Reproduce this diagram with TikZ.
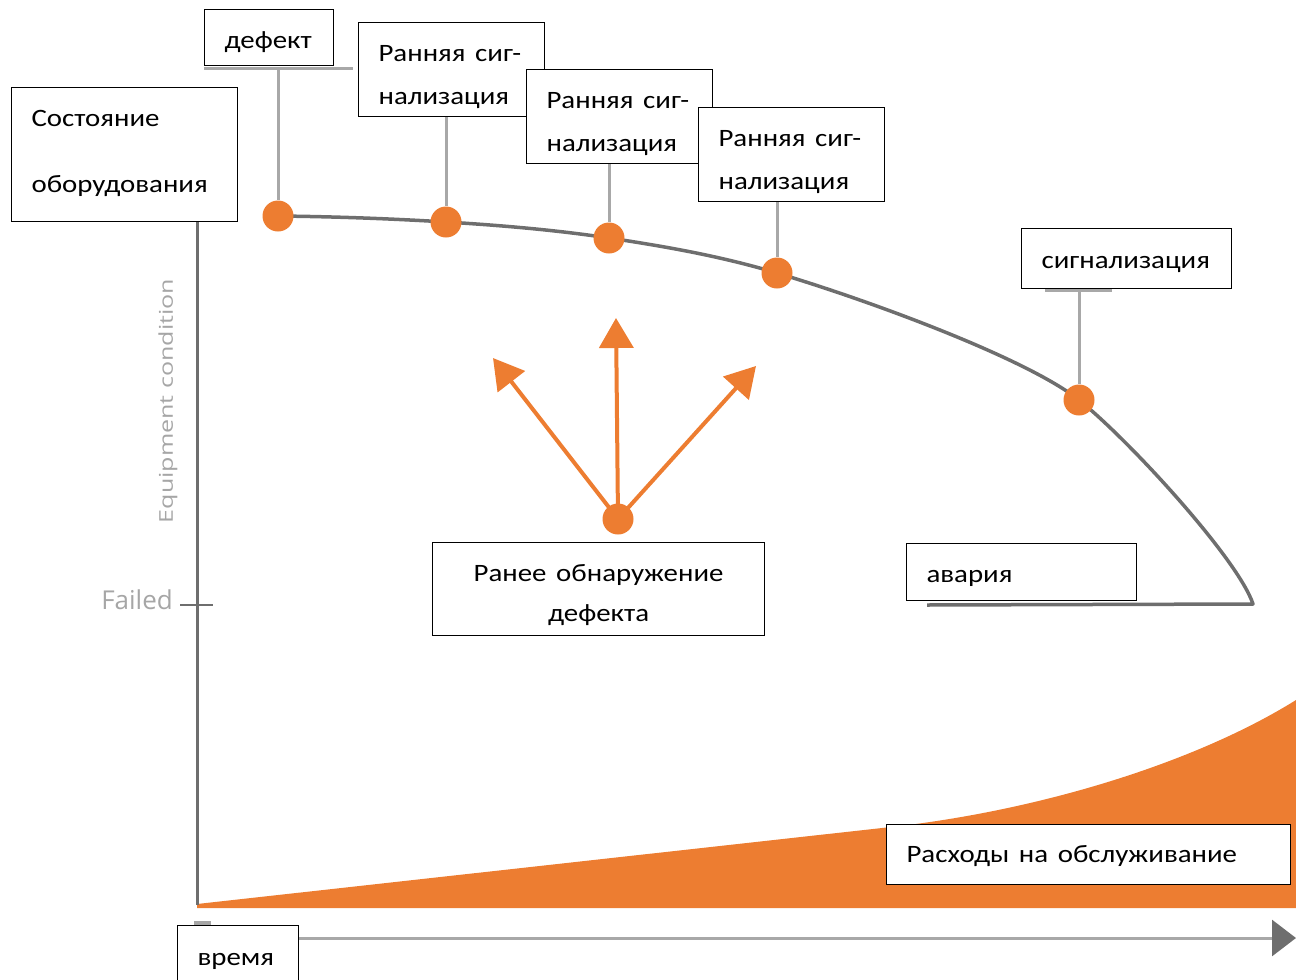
\documentclass[tikz,border=0pt]{standalone}
\usepackage{fontspec}
\setmainfont{Carlito}
\newfontfamily\lblfont{Open Sans}
\usepackage{graphicx}
\usetikzlibrary{arrows.meta}
\definecolor{org}{HTML}{ED7D31}
\definecolor{axisgray}{HTML}{6E6E6E}
\definecolor{pingray}{HTML}{A8A8A8}
\definecolor{lblgray}{HTML}{A6A6A6}
\newcommand\sx[1]{\scalebox{1.155}[1]{#1}}
\newcommand\topstrut[1]{\rule{0pt}{#1pt}}
\newcommand\botstrut[1]{\rule[-#1pt]{0pt}{#1pt}}
\begin{document}
\begin{tikzpicture}[x=1pt,y=-1pt,
 cbox/.style={draw=black, line width=1.1pt, fill=white, anchor=north west, inner xsep=20pt, inner ysep=0pt, font=\fontsize{25}{43}\selectfont, align=left},
 odot/.style={circle, fill=org, minimum size=31pt, inner sep=0pt},
 pinline/.style={draw=pingray, line width=3pt},
 fanarrow/.style={draw=org, line width=4pt, -{Triangle[length=30pt,width=34pt]}},
 axisline/.style={draw=axisgray, line width=3pt},
]
\useasboundingbox (0,0) rectangle (1296,980);

% cost area
\fill[org] (197,904) -- (900,826) .. controls (1050,808) and (1200,760) .. (1296,700) -- (1296,908) -- (197,908) -- cycle;

% axes
\coordinate (ytop) at (197,221);
\coordinate (ybot) at (197,905);
\draw[axisline] (ytop) -- (ybot);
\coordinate (tickL) at (180,605);
\coordinate (tickR) at (213,605);
\draw[draw=axisgray, line width=1.5pt] (tickL) -- (tickR);
\fill[lblgray] (194,921) rectangle (211,925);
\node[rotate=90, text=lblgray, font=\lblfont\fontsize{19}{19}\selectfont] (eqc) at (168,401) {\scalebox{1.32}[1]{Equipment condition}};
\node[anchor=east, text=lblgray, font=\lblfont\fontsize{26}{26}\selectfont, inner sep=0pt] (failed) at (173,600) {Failed};

% condition curve
\draw[draw=axisgray, line width=3.5pt, line join=round]
  (278,216) .. controls (334,216.6) and (390,218.6) .. (446,222)
  .. controls (500,225.3) and (555,229.9) .. (609,238)
  .. controls (665,246.4) and (721,256.2) .. (777,273)
  .. controls (877,303) and (1029,360) .. (1079,400)
  .. controls (1129,440) and (1238,559) .. (1253,604)
  -- (927,605);

% dots
\node[odot] (d1) at (278,216) {};
\node[odot] (d2) at (446,222) {};
\node[odot] (d3) at (609,238) {};
\node[odot] (d4) at (777,273) {};
\node[odot] (d5) at (1079,400) {};

% boxes
\node[cbox, minimum width=226pt, minimum height=134pt, text width=186pt] (cond) at (11,87) {\topstrut{30}\sx{Состояние}\\[23pt]\sx{оборудования}\botstrut{20}};
\node[cbox, minimum width=129pt, minimum height=56pt, text width=89pt, text height=29pt, text depth=8pt] (defect) at (204,9) {\sx{дефект}};
\node[cbox, minimum width=186pt, minimum height=94pt, text width=146pt] (e1) at (358,22) {\topstrut{35}\sx{Ранняя сиг-}\\\sx{нализация}\botstrut{8}};
\node[cbox, minimum width=186pt, minimum height=94pt, text width=146pt] (e2) at (526,69) {\topstrut{35}\sx{Ранняя сиг-}\\\sx{нализация}\botstrut{8}};
\node[cbox, minimum width=186pt, minimum height=94pt, text width=146pt] (e3) at (698,107) {\topstrut{35}\sx{Ранняя сиг-}\\\sx{нализация}\botstrut{8}};
\node[cbox, minimum width=210pt, minimum height=60pt, text width=170pt, text height=27pt, text depth=8pt] (sig) at (1021,228) {\sx{сигнализация}};
\node[cbox, minimum width=332pt, minimum height=93pt, text width=292pt, align=center, font=\fontsize{25}{40}\selectfont] (early) at (432,542) {\topstrut{32}\sx{Ранее обнаружение}\\\sx{дефекта}\botstrut{8}};
\node[cbox, minimum width=230pt, minimum height=57pt, text width=190pt, text height=28pt, text depth=8pt] (crash) at (906,543) {\sx{авария}};
\node[cbox, minimum width=404pt, minimum height=60pt, text width=364pt, text height=24pt, text depth=8pt] (cost) at (886,824) {\sx{Расходы на обслуживание}};
\node[cbox, minimum width=121pt, minimum height=66pt, text width=81pt, text height=22pt, text depth=8pt] (time) at (177,925) {\sx{время}};

% pins
\coordinate (u1a) at (204,68);
\coordinate (u1b) at (353,68);
\draw[pinline] (u1a) -- (u1b);
\coordinate (p1) at (278,68);
\draw[pinline] (p1) -- (d1);
\draw[pinline] (d2 |- e1.south) -- (d2);
\draw[pinline] (d3 |- e2.south) -- (d3);
\draw[pinline] (d4 |- e3.south) -- (d4);
\coordinate (u5a) at (1045,290);
\coordinate (u5b) at (1112,290);
\draw[pinline] (u5a) -- (u5b);
\coordinate (p5) at (1079,290);
\draw[pinline] (p5) -- (d5);

% fan
\node[odot] (f0) at (618,519) {};
\coordinate (tL) at (493,358);
\coordinate (tU) at (616,318);
\coordinate (tR) at (756,366);
\draw[fanarrow] (f0.center) -- (tL);
\draw[fanarrow] (f0.center) -- (tU);
\draw[fanarrow] (f0.center) -- (tR);

% time axis
\coordinate (tend) at (1296,938);
\draw[draw=pingray, line width=3pt, -{Triangle[length=24pt,width=36pt,color=axisgray]}] (time.east |- tend) -- (tend);
\end{tikzpicture}
\end{document}
